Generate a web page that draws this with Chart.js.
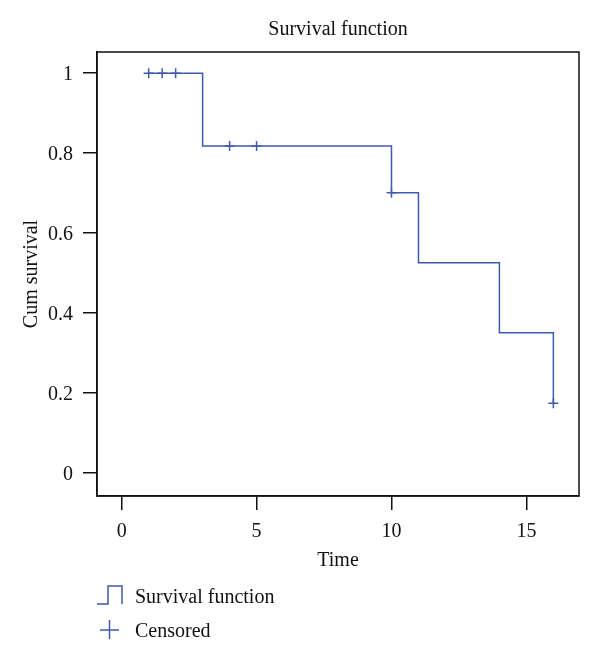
<!DOCTYPE html>
<html>
<head>
<meta charset="utf-8">
<script src="https://cdn.jsdelivr.net/npm/chart.js@4.4.1/dist/chart.umd.min.js"></script>
<style>
  body { margin: 0; background: #fff; }
  #wrap { width: 600px; height: 661px; }
</style>
</head>
<body>
<div id="wrap"><canvas id="km"></canvas></div>
<script>
// event times and survival after each event
const stepTimes = [1, 3, 10, 11, 14, 16];
const stepSurv = [1, 0.818, 0.701, 0.526, 0.351, 0.175];
// censored cases
const censTimes = [1, 1.5, 2, 4, 5, 10, 16];
const censSurv = [1, 1, 1, 0.818, 0.818, 0.701, 0.175];
// tick labels
const xTicks = [0, 5, 10, 15];
const yTicks = [0, 0.2, 0.4, 0.6, 0.8, 1];

const blue = '#3f5aaf';
const serif = 'Liberation Serif';

const frame = {
  id: 'frame',
  afterDraw(chart) {
    const { ctx, chartArea } = chart;
    ctx.save();
    ctx.strokeStyle = '#111';
    ctx.lineWidth = 1.5;
    ctx.strokeRect(chartArea.left, chartArea.top, chartArea.width, chartArea.height);

    // legend below the plot
    ctx.strokeStyle = blue;
    ctx.lineWidth = 1.5;
    ctx.beginPath();
    ctx.moveTo(97, 604);
    ctx.lineTo(108, 604);
    ctx.lineTo(108, 586);
    ctx.lineTo(122, 586);
    ctx.lineTo(122, 604);
    ctx.stroke();
    ctx.beginPath();
    ctx.moveTo(109.5, 620);
    ctx.lineTo(109.5, 639);
    ctx.moveTo(100, 630);
    ctx.lineTo(119, 630);
    ctx.stroke();
    ctx.fillStyle = '#111';
    ctx.font = '20px "' + serif + '"';
    ctx.textBaseline = 'alphabetic';
    ctx.fillText('Survival function', 135, 603);
    ctx.fillText('Censored', 135, 637);
    ctx.restore();
  }
};

const ctx = document.getElementById('km').getContext('2d');

new Chart(ctx, {
  type: 'scatter',
  data: {
    datasets: [
      {
        label: 'Survival function',
        data: stepTimes.map((t, i) => ({ x: t, y: stepSurv[i] })),
        showLine: true,
        stepped: 'before',
        borderColor: blue,
        borderWidth: 1.5,
        pointRadius: 0,
        fill: false
      },
      {
        label: 'Censored',
        data: censTimes.map((t, i) => ({ x: t, y: censSurv[i] })),
        showLine: false,
        pointStyle: 'cross',
        pointRadius: 5,
        borderColor: blue,
        borderWidth: 1.5,
        pointHoverRadius: 5
      }
    ]
  },
  options: {
    responsive: true,
    maintainAspectRatio: false,
    animation: false,
    layout: { padding: { top: 0, left: 0, right: 21, bottom: 80 } },
    plugins: {
      legend: { display: false },
      tooltip: { enabled: false },
      title: {
        display: true,
        text: 'Survival function',
        fullSize: false,
        color: '#111',
        font: { family: serif, size: 20, weight: 'normal' },
        padding: { top: 18, bottom: 10 }
      }
    },
    scales: {
      x: {
        type: 'linear',
        min: -0.915,
        max: 16.95,
        afterBuildTicks: s => { s.ticks = xTicks.map(v => ({ value: v })); },
        afterFit: s => { s.height = 85; },
        border: { display: true, color: '#111', width: 1.5 },
        grid: { drawOnChartArea: false, drawTicks: true, tickLength: 14, color: '#111', lineWidth: 1.5 },
        ticks: { color: '#111', padding: 10, font: { family: serif, size: 20 }, maxRotation: 0 },
        title: {
          display: true,
          text: 'Time',
          color: '#111',
          font: { family: serif, size: 20 },
          padding: { top: 0, bottom: 8 }
        }
      },
      y: {
        type: 'linear',
        min: -0.057,
        max: 1.053,
        afterBuildTicks: s => { s.ticks = yTicks.map(v => ({ value: v })); },
        afterFit: s => { s.width = 97; },
        border: { display: true, color: '#111', width: 1.5 },
        grid: { drawOnChartArea: false, drawTicks: true, tickLength: 14, color: '#111', lineWidth: 1.5 },
        ticks: {
          color: '#111',
          padding: 10,
          labelOffset: 2,
          font: { family: serif, size: 20 },
          callback: v => String(Math.round(v * 10) / 10)
        },
        title: {
          display: true,
          text: 'Cum survival',
          color: '#111',
          font: { family: serif, size: 20 },
          padding: { top: 20, bottom: 0 }
        }
      }
    }
  },
  plugins: [frame]
});
</script>
</body>
</html>
